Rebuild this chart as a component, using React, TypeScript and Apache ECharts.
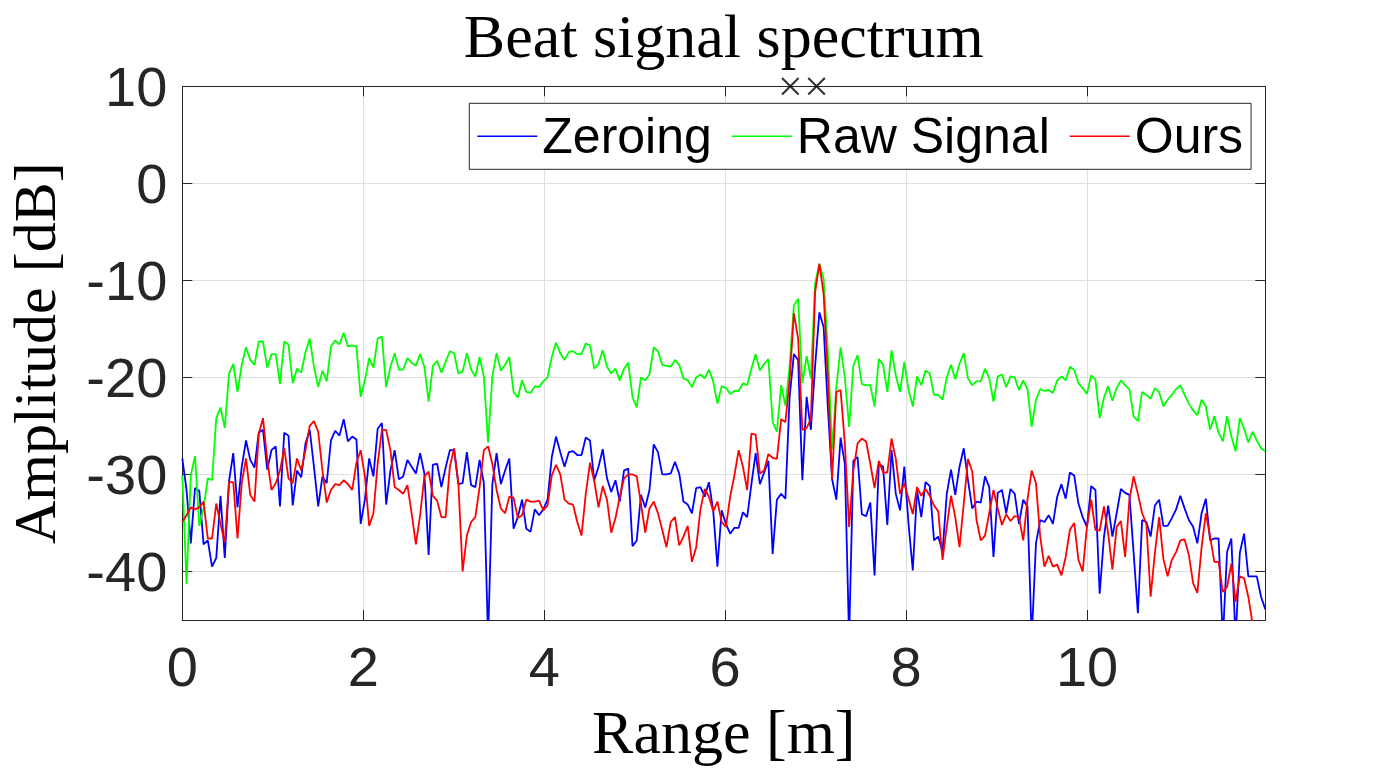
import React, { useEffect, useRef } from 'react';
import * as echarts from 'echarts';

// Range axis: uniform FFT bins from 0 to RANGE_MAX
const RANGE_MAX = 11.97;
const N_BINS = 256;

const SERIES_NAMES = ['Zeroing', 'Raw Signal', 'Ours'];
const SERIES_COLORS = ['#0000ff', '#00ff00', '#ff0000'];

const ZEROING = [
  -28.35, -31.6, -37.1, -31.4, -31.7, -37.2, -36.8, -39.5, -38.6, -32.2,
  -38.6, -30.7, -27.8, -33.4, -29.2, -26.5, -28.5, -29.3, -25.7, -25.4,
  -29.5, -27.5, -27.1, -33.3, -25.7, -26.0, -33.2, -29.6, -30.3, -26.8,
  -25.4, -29.2, -33.3, -30.2, -30.9, -26.5, -25.5, -26.0, -24.3, -26.6,
  -26.1, -26.4, -35.1, -32.6, -28.35,
  -30.2, -25.3, -24.7, -33.1, -29.6, -27.5, -30.5, -30.2, -28.5, -29.2,
  -29.9, -27.8, -29.9, -38.3, -29.0, -28.9, -31.3, -29.3, -27.5, -27.5,
  -31.0, -30.9, -27.7, -31.1, -31.3, -28.5, -30.9, -47.0, -31.0, -27.8,
  -31.0, -29.6, -28.35, -35.6, -34.4, -32.6, -35.6, -35.9, -33.6, -34.2,
  -33.6, -32.6, -28.2, -26.1,
  -27.7, -29.2, -27.7, -27.6, -28.0, -28.0, -26.2, -26.5, -30.6, -29.2,
  -27.4, -30.4, -31.8, -30.6, -32.8, -29.6, -29.4, -37.4, -36.8, -32.1,
  -33.4, -31.6, -26.9, -27.7, -30.0, -30.0, -29.9, -28.7, -29.9, -32.8,
  -33.1, -34.0, -31.4, -31.3, -32.3, -30.8, -33.7, -39.5, -33.7, -35.1,
  -36.1, -35.5, -35.5,
  -33.9, -34.4, -31.0, -27.8, -31.0, -29.8, -28.6, -38.2, -32.6, -32.0,
  -32.5, -22.0, -17.6, -18.2, -30.6, -22.0, -25.4, -18.8, -13.3, -14.8,
  -23.1, -30.5, -32.6, -26.2, -28.9, -47.0, -28.6, -28.2, -34.1, -34.3,
  -32.9, -40.4, -28.9, -29.2, -35.2, -27.5, -32.0, -33.7, -29.2, -35.1,
  -39.9, -31.6, -34.4, -30.8, -31.2,
  -36.8, -36.4, -38.0, -32.0, -29.5, -32.1, -29.2, -27.3, -30.6, -33.5,
  -32.8, -32.9, -30.2, -31.3, -38.5, -31.9, -31.6, -34.0, -31.5, -32.0,
  -35.1, -32.6, -33.3, -47.0, -37.1, -34.7, -34.9, -34.2, -35.1, -32.3,
  -31.0, -32.5, -29.8, -30.1, -33.0, -34.4, -35.4, -31.2, -31.6, -42.3,
  -36.5, -33.2, -36.4, -34.0, -31.5, -31.9, -32.1, -38.1, -44.3, -34.7,
  -34.9, -36.4, -33.2, -32.6, -35.3, -35.3, -34.5, -33.6, -32.2, -33.5,
  -34.7, -35.4, -37.1, -34.0, -32.5, -36.8, -36.6, -36.6, -47.0, -38.0,
  -36.6, -47.0, -38.1, -36.1, -40.5, -40.5, -40.5, -42.6, -43.9,
];

const RAW_SIGNAL = [
  -30.1, -41.3, -30.1, -28.1, -35.3, -33.5, -30.4, -30.6, -24.2, -23.1,
  -25.2, -19.6, -18.6, -21.5, -18.7, -16.9, -18.2, -18.7, -16.3, -16.3,
  -19.0, -17.6, -17.6, -20.7, -16.3, -16.6, -20.6, -19.1, -19.5, -17.4,
  -16.0, -18.9, -21.0, -19.3, -20.4, -16.8, -16.2, -16.6, -15.4, -16.8,
  -16.7, -16.8, -22.0, -20.3, -18.0,
  -19.0, -16.0, -15.8, -21.0, -18.9, -17.5, -19.2, -19.2, -18.0, -18.5,
  -18.8, -17.6, -18.9, -22.5, -18.8, -18.3, -19.5, -18.4, -17.3, -17.5,
  -19.6, -19.4, -17.5, -19.2, -19.9, -17.9, -19.9, -26.7, -19.9, -17.5,
  -19.3, -18.7, -17.9, -21.5, -22.1, -20.3, -21.5, -21.6, -20.9, -21.0,
  -20.4, -20.0, -17.9, -16.4,
  -17.5, -18.2, -17.4, -17.3, -17.6, -17.6, -16.5, -16.7, -19.1, -18.6,
  -17.2, -18.9, -19.6, -19.1, -20.3, -19.1, -18.5, -22.0, -23.1, -20.0,
  -20.3, -19.7, -16.9, -17.3, -18.7, -18.8, -18.9, -18.2, -18.7, -20.1,
  -20.3, -21.0, -20.0, -19.7, -20.1, -19.2, -20.4, -22.7, -20.9, -21.1,
  -21.7, -21.4, -21.4,
  -20.6, -20.8, -19.1, -17.6, -19.3, -18.6, -18.1, -24.6, -25.6, -20.8,
  -22.9, -18.8, -12.6, -11.9, -20.6, -17.8, -20.1, -10.3, -8.3, -9.8,
  -17.2, -27.4, -21.0, -16.9, -20.0, -25.1, -18.8, -17.7, -20.7, -20.8,
  -20.8, -23.0, -18.1, -18.7, -21.5, -17.2, -19.8, -21.5, -18.4, -21.3,
  -23.0, -19.9, -20.8, -19.3, -19.6,
  -21.8, -21.8, -22.3, -20.0, -18.7, -20.2, -18.6, -17.5, -20.1, -20.8,
  -20.4, -20.4, -19.1, -20.1, -22.5, -19.9, -19.7, -21.0, -19.9, -20.0,
  -21.3, -20.3, -21.2, -25.1, -22.3, -21.2, -21.4, -21.3, -21.6, -20.3,
  -19.9, -20.3, -18.9, -19.2, -20.6, -21.1, -21.7, -19.8, -20.2, -24.2,
  -22.1, -20.9, -22.4, -21.1, -20.3, -20.8, -21.2, -24.0, -24.5, -21.5,
  -21.8, -22.2, -21.1, -21.5, -23.0, -22.3, -21.8, -21.2, -20.8, -21.8,
  -22.7, -23.4, -23.9, -22.3, -23.0, -25.4, -24.0, -25.7, -26.6, -24.0,
  -26.1, -27.6, -24.2, -25.3, -26.7, -25.6, -26.5, -27.3, -27.6,
];

const OURS = [
  -34.9, -34.2, -33.4, -33.6, -33.4, -32.8, -36.6, -36.6, -33.0, -35.1,
  -37.0, -30.8, -30.8, -36.6, -30.9, -28.35, -32.1, -32.8, -25.8, -24.2,
  -28.5, -31.6, -30.9, -29.6, -27.3, -30.4, -30.9, -28.35, -29.6, -27.5,
  -25.0, -24.5, -25.6, -29.6, -32.9, -31.6, -31.0, -31.1, -30.6, -31.0,
  -31.6, -28.8, -27.5, -30.2, -35.3,
  -34.0, -28.9, -25.4, -25.4, -27.5, -31.3, -31.6, -32.0, -31.1, -34.0,
  -37.2, -34.2, -30.2, -29.7, -32.2, -32.7, -34.4, -34.4, -29.2, -27.3,
  -30.9, -40.0, -36.3, -34.9, -34.4, -31.3, -27.5, -27.1, -28.9, -31.6,
  -33.5, -34.0, -32.3, -32.4, -34.5, -34.2, -32.6, -32.8, -32.8, -32.7,
  -33.7, -33.2, -30.1, -29.0,
  -30.0, -32.6, -33.0, -33.1, -34.9, -36.3, -32.0, -28.8, -30.7, -33.4,
  -31.2, -32.6, -36.0, -34.5, -32.3, -30.4, -30.0, -30.0, -30.2, -33.0,
  -36.0, -33.5, -32.8, -34.0, -35.7, -37.5, -34.9, -34.4, -37.3, -36.4,
  -35.3, -39.0, -37.5, -33.6, -31.5, -32.3, -33.8, -32.8, -34.9, -35.4,
  -32.3, -30.1, -27.5,
  -29.2, -31.6, -25.8, -25.9, -29.9, -29.6, -27.9, -28.3, -28.4, -24.3,
  -24.6, -20.3, -13.4, -16.0, -25.4, -25.2, -24.3, -11.2, -8.3, -11.4,
  -20.0, -30.5, -21.5, -21.3, -26.8, -35.4, -29.6, -26.8, -26.3, -26.6,
  -28.9, -31.4, -28.6, -29.8, -29.8, -26.3, -28.4, -32.0, -30.9, -32.5,
  -34.1, -31.3, -32.2, -31.5, -32.2,
  -33.2, -33.8, -38.8, -35.4, -32.2, -34.4, -37.5, -33.0, -28.4, -29.7,
  -34.7, -36.8, -36.3, -34.0, -31.6, -33.5, -35.2, -34.1, -34.8, -34.3,
  -34.4, -36.8, -32.6, -29.6, -30.9, -36.4, -39.5, -38.4, -39.5, -39.3,
  -40.4, -38.5, -35.7, -35.0, -38.8, -40.0, -35.4, -32.6, -35.7, -35.8,
  -33.3, -36.1, -39.8, -35.4, -34.8, -38.5, -32.6, -30.2, -32.0, -34.0,
  -35.1, -42.6, -38.1, -34.4, -38.7, -40.5, -38.8, -38.0, -36.8, -36.7,
  -38.3, -41.2, -42.2, -37.5, -34.0, -36.4, -39.0, -39.0, -42.1, -41.6,
  -39.2, -43.1, -40.5, -40.7, -42.6, -45.4, -47.0, -48.0, -48.0,
];

// Black "x" peak markers along the top edge
const PEAK_MARKS_X = [6.72, 7.01];
const PEAK_MARK_Y = 10;

const Y_MIN = -45;
const Y_MAX = 10;

const AXIS_COLOR = '#262626';
const GRID_COLOR = '#dfdfdf';
const SANS = '"Liberation Sans", Arial, Helvetica, sans-serif';
const SERIF = '"Liberation Serif", "Times New Roman", serif';

export default function App() {
  const ref = useRef<HTMLDivElement>(null);

  useEffect(() => {
    if (!ref.current) return;
    const chart = echarts.init(ref.current, undefined, { renderer: 'svg', width: 1398, height: 776 });
    const step = RANGE_MAX / (N_BINS - 1);
    const toPairs = (ys: number[]) => ys.map((y, i) => [i * step, y]);
    const dataSets = [ZEROING, RAW_SIGNAL, OURS];

    const gridLeft = 182.3;
    const gridTop = 86.3;
    const gridW = 1083;
    const gridH = 533.7;
    const cx = gridLeft + gridW / 2;

    const tickStyle = { inside: true, length: 10, lineStyle: { color: AXIS_COLOR, width: 1 } };
    const lineStyleAxis = { show: true, onZero: false, lineStyle: { color: AXIS_COLOR, width: 1 } };

    const option: any = {
      animation: false,
      backgroundColor: '#ffffff',
      grid: {
        left: gridLeft,
        top: gridTop,
        width: gridW,
        height: gridH,
        containLabel: false,
        outerBoundsMode: 'none',
      },
      legend: {
        data: SERIES_NAMES,
        left: 469.3,
        top: 103.3,
        orient: 'horizontal',
        padding: [8, 8, 8, 8],
        icon: 'rect',
        itemWidth: 60,
        itemHeight: 1.4,
        itemGap: 20,
        backgroundColor: '#ffffff',
        borderColor: AXIS_COLOR,
        borderWidth: 1,
        textStyle: { fontSize: 50, fontFamily: SANS, color: '#000000' },
        selectedMode: false,
        z: 20,
      },
      xAxis: [
        {
          type: 'value',
          position: 'bottom',
          min: 0,
          max: RANGE_MAX,
          interval: 2,
          axisLine: lineStyleAxis,
          axisTick: tickStyle,
          axisLabel: {
            fontSize: 56,
            fontFamily: SANS,
            color: AXIS_COLOR,
            margin: 18,
            formatter: (v: number) => (Math.abs(v - Math.round(v)) < 1e-6 && Math.round(v) % 2 === 0 ? String(Math.round(v)) : ''),
          },
          splitLine: { show: true, lineStyle: { color: GRID_COLOR, width: 1 } },
        },
        {
          type: 'value',
          position: 'top',
          min: 0,
          max: RANGE_MAX,
          interval: 2,
          axisLine: lineStyleAxis,
          axisTick: tickStyle,
          axisLabel: { show: false },
          splitLine: { show: false },
        },
      ],
      yAxis: [
        {
          type: 'value',
          position: 'left',
          min: Y_MIN,
          max: Y_MAX,
          splitNumber: 5,
          axisLine: lineStyleAxis,
          axisTick: tickStyle,
          axisLabel: {
            fontSize: 56,
            fontFamily: SANS,
            color: AXIS_COLOR,
            margin: 15,
            formatter: (v: number) => (Math.round(v) % 10 === 0 ? String(Math.round(v)) : ''),
          },
          splitLine: { show: true, lineStyle: { color: GRID_COLOR, width: 1 } },
        },
        {
          type: 'value',
          position: 'right',
          min: Y_MIN,
          max: Y_MAX,
          splitNumber: 5,
          axisLine: lineStyleAxis,
          axisTick: tickStyle,
          axisLabel: { show: false },
          splitLine: { show: false },
        },
      ],
      series: [
        ...dataSets.map((ys, k) => ({
          name: SERIES_NAMES[k],
          type: 'line',
          xAxisIndex: 0,
          yAxisIndex: 0,
          data: toPairs(ys),
          symbol: 'none',
          showSymbol: false,
          color: SERIES_COLORS[k],
          itemStyle: { color: SERIES_COLORS[k] },
          lineStyle: { color: SERIES_COLORS[k], width: 1.8 },
          clip: true,
          z: 2 + k,
        })),
        {
          name: 'peaks',
          type: 'scatter',
          xAxisIndex: 0,
          yAxisIndex: 0,
          data: PEAK_MARKS_X.map((x) => [x, PEAK_MARK_Y]),
          symbol: 'path://M0,1.4L1.4,0L8.5,7.1L15.6,0L17,1.4L9.9,8.5L17,15.6L15.6,17L8.5,9.9L1.4,17L0,15.6L7.1,8.5Z',
          symbolSize: 18,
          itemStyle: { color: '#000000' },
          clip: false,
          z: 10,
        },
      ],
      graphic: [
        {
          type: 'text',
          x: cx,
          y: 36,
          style: {
            text: 'Beat signal spectrum',
            fontSize: 62,
            fontFamily: SERIF,
            fill: '#000000',
            align: 'center',
            verticalAlign: 'middle',
          },
        },
        {
          type: 'text',
          x: cx,
          y: 732,
          style: {
            text: 'Range [m]',
            fontSize: 62,
            fontFamily: SERIF,
            fill: '#000000',
            align: 'center',
            verticalAlign: 'middle',
          },
        },
        {
          type: 'text',
          x: 35,
          y: gridTop + gridH / 2,
          rotation: Math.PI / 2,
          style: {
            text: 'Amplitude [dB]',
            fontSize: 60,
            fontFamily: SERIF,
            fill: '#000000',
            align: 'center',
            verticalAlign: 'middle',
          },
        },
      ],
    };

    chart.setOption(option);
    return () => chart.dispose();
  }, []);

  return (
    <div
      ref={ref}
      style={{ position: 'fixed', left: 0, top: 0, width: 1398, height: 776, background: '#ffffff' }}
    />
  );
}
